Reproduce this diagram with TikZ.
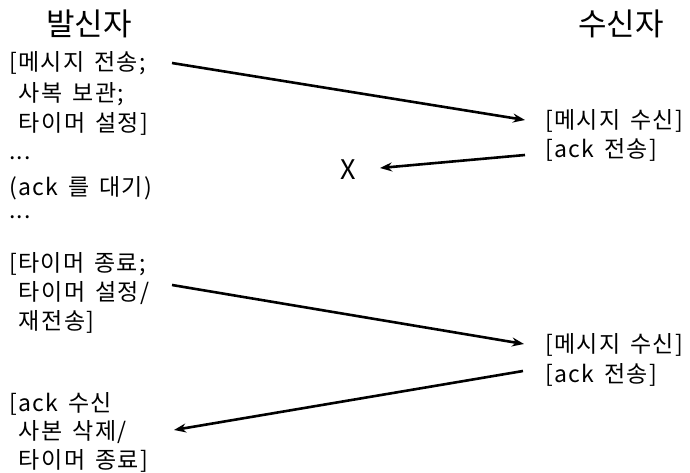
\documentclass[tikz,border=0pt]{standalone}
\usepackage{fontspec}
\setmainfont{Noto Sans CJK KR}
\newfontfamily\bodyfont[LetterSpace=6,WordSpace=1.5]{Noto Sans CJK KR}
\usetikzlibrary{arrows.meta}
\begin{document}
\begin{tikzpicture}[x=1pt,y=-1pt,
  txt/.style={anchor=west,inner sep=0pt,font=\bodyfont\fontsize{23}{27}\selectfont},
  hdr/.style={inner sep=0pt,font=\fontsize{31}{36}\selectfont},
  msg/.style={line width=2.6pt,-{Stealth[length=12pt,width=9pt]}}]
\useasboundingbox (0,0) rectangle (690,472);
\node[hdr] (sh) at (89,24) {발신자};
\node[hdr] (rh) at (621,24) {수신자};
\node[txt] (s1a) at (9,63) {[메시지 전송;};
\node[txt] (s1b) at (9,94) {\ 사복 보관;};
\node[txt] (s1c) at (9,124) {\ 타이머 설정]};
\node[txt] (d1) at (9,158) {...};
\node[txt] (w) at (9,188) {(ack 를 대기)};
\node[txt] (d2) at (9,217) {...};
\node[txt] (s2a) at (9,264) {[타이머 종료;};
\node[txt] (s2b) at (9,293) {\ 타이머 설정/};
\node[txt] (s2c) at (9,322) {\ 재전송]};
\node[txt] (s3a) at (9,404) {[ack 수신};
\node[txt] (s3b) at (9,432) {\ 사본 삭제/};
\node[txt] (s3c) at (9,461) {\ 타이머 종료]};
\node[txt] (r1a) at (545,121) {[메시지 수신]};
\node[txt] (r1b) at (545,150) {[ack 전송]};
\node[txt] (r2a) at (545,345) {[메시지 수신]};
\node[txt] (r2b) at (545,375) {[ack 전송]};
\node[inner sep=0pt,font=\fontsize{27}{30}\selectfont] (x) at (348,170) {X};
\draw[msg] (172,63) coordinate (a1) -- (525,120) coordinate (b1);
\draw[msg] (525,155) coordinate (a2) -- (380,168) coordinate (b2);
\draw[msg] (172,285) coordinate (a3) -- (524,344) coordinate (b3);
\draw[msg] (523,371) coordinate (a4) -- (174,430) coordinate (b4);
\end{tikzpicture}
\end{document}
